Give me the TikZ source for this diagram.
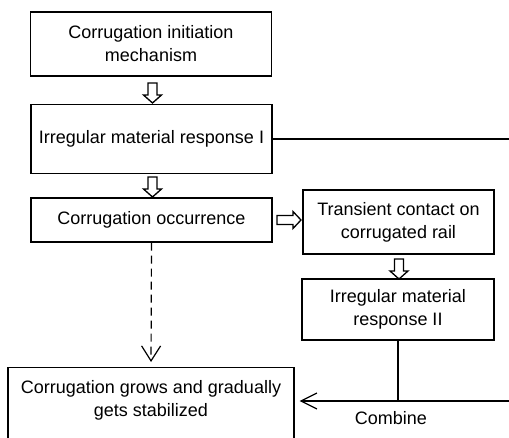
\documentclass[tikz,border=0pt]{standalone}
\usepackage{fontspec}
\setmainfont{Liberation Sans}
\usetikzlibrary{arrows.meta}
\tikzset{
  box/.style={draw, line width=1.2pt, inner sep=0pt, align=center, font=\fontsize{18}{23}\selectfont},
  lbl/.style={inner sep=0pt, align=center, font=\fontsize{18}{23}\selectfont},
  conn/.style={line width=1.2pt},
  barb/.style={-{Straight Barb[length=16pt,width=16pt]}},
  downarr/.pic={\draw[line width=1.3pt, line join=miter] (-4.5,0) -- (-4.5,12) -- (-9,12) -- (0,20) -- (9,12) -- (4.5,12) -- (4.5,0) -- cycle;},
  rightarr/.pic={\draw[line width=1.3pt, line join=miter] (0,-4.5) -- (16,-4.5) -- (16,-8.5) -- (24,0) -- (16,8.5) -- (16,4.5) -- (0,4.5) -- cycle;}
}
\begin{document}
\begin{tikzpicture}[x=1pt,y=-1pt]
\useasboundingbox (0,0) rectangle (509,437);
\node[box, minimum width=241pt, minimum height=64pt] (b1) at (151,44) {Corrugation initiation\\mechanism};
\node[box, minimum width=241pt, minimum height=69pt] (b2) at (151.5,139) {Irregular material response I};
\node[box, minimum width=241pt, minimum height=44pt] (b3) at (151.5,220) {Corrugation occurrence};
\node[box, minimum width=191pt, minimum height=64pt] (b4) at (398.5,222) {Transient contact on\\corrugated rail};
\node[box, minimum width=192pt, minimum height=61pt] (b5) at (398,309.5) {Irregular material\\response II};
\node[box, minimum width=286pt, minimum height=80pt, anchor=north] (b6) at (151,367) {};
\node[lbl] (b6t) at (151,400) {Corrugation grows and gradually\\gets stabilized};
\node[lbl] (comb) at (391,418) {Combine};
\pic at (152.5,83) {downarr};
\pic at (152.5,177) {downarr};
\pic at (277,220) {rightarr};
\pic at (399,259) {downarr};
\coordinate (r1) at (509,139);
\coordinate (r2) at (509,401);
\coordinate (j) at (398,401);
\draw[conn] (b2.east) -- (r1);
\draw[conn] (b5.south) -- (j);
\draw[conn, barb, shorten >=5pt] (r2) -- (b6.east |- j);
\draw[conn, dash pattern=on 8pt off 5pt, -{Straight Barb[length=15pt,width=19pt]}, shorten >=5pt] (b3.south) -- (b6.north);
\end{tikzpicture}
\end{document}
